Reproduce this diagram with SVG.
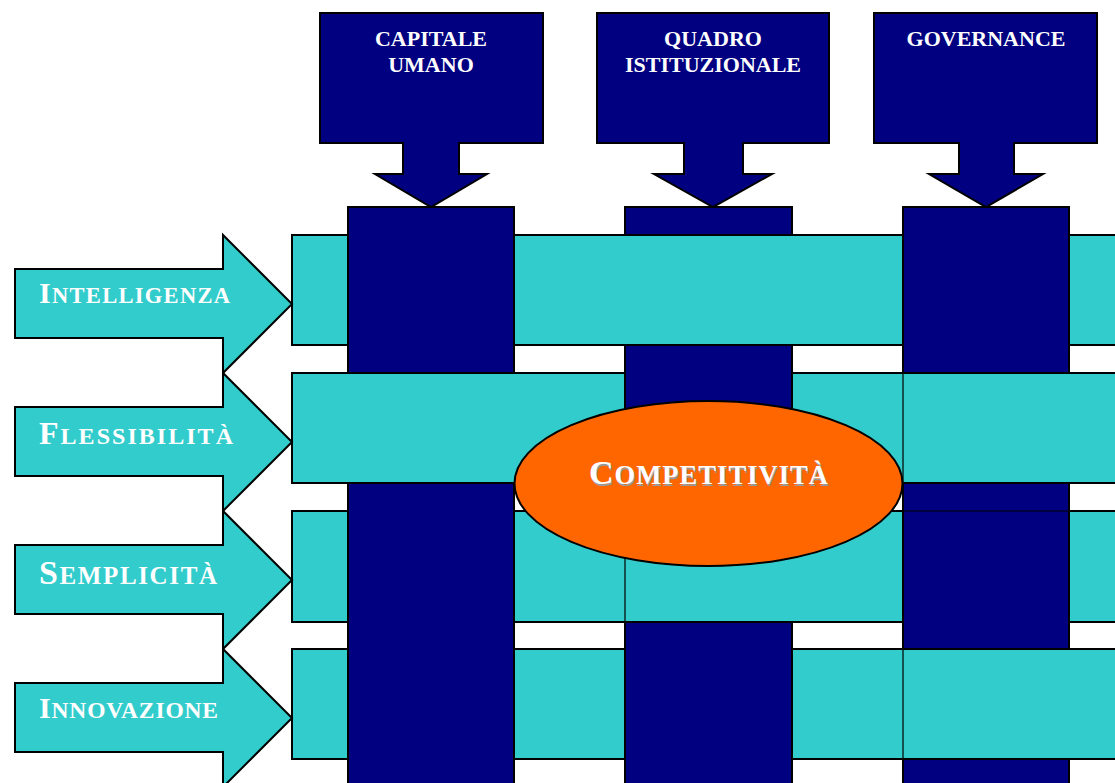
<svg xmlns="http://www.w3.org/2000/svg" width="1115" height="783" viewBox="0 0 1115 783">
<style>
.navy{fill:#000080;stroke:#000;stroke-width:2}
.teal{fill:#33CCCC;stroke:#000;stroke-width:2}
.np{fill:#000080;stroke:none}
.edge{stroke:#000;stroke-width:2;fill:none}
.thin{stroke:#000;stroke-width:1.2;fill:none}
.top{font-family:"Liberation Serif","Times New Roman",serif;font-weight:bold;font-size:22px;fill:#fff;text-anchor:middle}
.lab{font-family:"Liberation Serif","Times New Roman",serif;font-weight:bold;fill:#fff}
</style>
<rect width="1115" height="783" fill="#fff"/>

<g id="weave">
  <g id="columns">
    <rect id="col1" class="navy" x="348" y="207" width="166" height="590"/>
    <rect id="col2" class="navy" x="625" y="207" width="167" height="590"/>
    <rect id="col3" class="navy" x="903" y="207" width="166" height="590"/>
  </g>
  <g id="rows">
    <rect id="row1" class="teal" x="292" y="235" width="840" height="110"/>
    <rect id="row2" class="teal" x="292" y="373" width="840" height="110"/>
    <rect id="row3" class="teal" x="292" y="511" width="840" height="111"/>
    <rect id="row4" class="teal" x="292" y="649" width="840" height="110"/>
    <line class="thin" x1="903" y1="373" x2="903" y2="483"/>
    <line class="thin" x1="625" y1="511" x2="625" y2="622"/>
    <line class="thin" x1="903" y1="649" x2="903" y2="759"/>
  </g>
  <g id="column-overlaps">
    <rect class="np" x="349" y="233" width="164" height="114"/>
    <rect class="np" x="349" y="509" width="164" height="115"/>
    <rect class="np" x="349" y="647" width="164" height="114"/>
    <rect class="np" x="626" y="371" width="165" height="114"/>
    <rect class="np" x="626" y="647" width="165" height="114"/>
    <rect class="np" x="904" y="233" width="164" height="114"/>
    <rect class="np" x="904" y="509" width="164" height="115"/>
    <path class="edge" d="M348,233V347M514,233V347M348,509V624M514,509V624M348,647V761M514,647V761M625,371V485M792,371V485M625,647V761M792,647V761M903,233V347M1069,233V347M903,509V624M1069,509V624"/>
    <line class="thin" x1="903" y1="511" x2="1069" y2="511"/>
  </g>
</g>

<g id="drivers">
  <g id="arrow-intelligenza">
    <path class="teal" d="M15,269H223V235L292,304L223,373V338H15Z"/>
    <text class="lab" x="39" y="303" textLength="191" lengthAdjust="spacing"><tspan font-size="30">I</tspan><tspan font-size="22.5">NTELLIGENZA</tspan></text>
  </g>
  <g id="arrow-flessibilita">
    <path class="teal" d="M15,407H223V373L292,442L223,511V476H15Z"/>
    <text class="lab" x="39" y="444" textLength="194" lengthAdjust="spacing"><tspan font-size="32">F</tspan><tspan font-size="24">LESSIBILITÀ</tspan></text>
  </g>
  <g id="arrow-semplicita">
    <path class="teal" d="M15,545H223V511L292,580L223,649V614H15Z"/>
    <text class="lab" x="39" y="584" textLength="178" lengthAdjust="spacing"><tspan font-size="34">S</tspan><tspan font-size="25">EMPLICITÀ</tspan></text>
  </g>
  <g id="arrow-innovazione">
    <path class="teal" d="M15,683H223V649L292,718L223,787V752H15Z"/>
    <text class="lab" x="39" y="718" textLength="179" lengthAdjust="spacing"><tspan font-size="30">I</tspan><tspan font-size="23.5">NNOVAZIONE</tspan></text>
  </g>
</g>

<g id="pillars">
  <g id="capitale-umano">
    <path class="navy" d="M320,13H543V143H459V174H487L431,207L375,174H403V143H320Z"/>
    <text class="top" x="431" y="46">CAPITALE</text>
    <text class="top" x="431" y="72">UMANO</text>
  </g>
  <g id="quadro-istituzionale">
    <path class="navy" d="M597,13H829V143H743V174H772L713,207L654,174H684V143H597Z"/>
    <text class="top" x="713" y="46">QUADRO</text>
    <text class="top" x="713" y="72">ISTITUZIONALE</text>
  </g>
  <g id="governance">
    <path class="navy" d="M874,13H1097V143H1014V174H1043L986,207L929,174H959V143H874Z"/>
    <text class="top" x="986" y="46">GOVERNANCE</text>
  </g>
</g>

<g id="competitivita">
  <ellipse cx="708.5" cy="483.5" rx="194" ry="82.5" fill="#FF6600" stroke="#000" stroke-width="2"/>
  <text class="lab" x="590" y="485.5" textLength="239" lengthAdjust="spacing" style="fill:#9a9a9a"><tspan font-size="34">C</tspan><tspan font-size="26.5">OMPETITIVITÀ</tspan></text>
  <text class="lab" x="589" y="484.3" textLength="239" lengthAdjust="spacing"><tspan font-size="34">C</tspan><tspan font-size="26.5">OMPETITIVITÀ</tspan></text>
</g>
</svg>
